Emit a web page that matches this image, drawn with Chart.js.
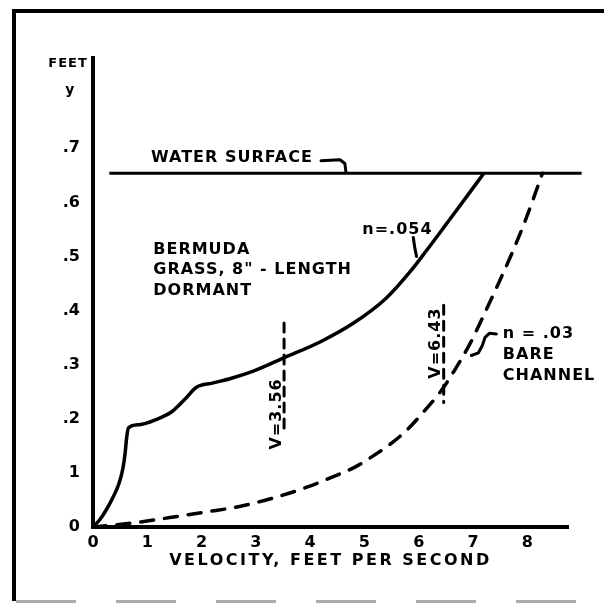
<!doctype html>
<html>
<head>
<meta charset="UTF-8">
<title>Depth vs velocity, Bermuda grass channel</title>
<script src="https://cdn.jsdelivr.net/npm/chart.js@4/dist/chart.umd.min.js"></script>
<style>
  body { margin: 0; background: #fff; }
  #wrap { position: relative; width: 604px; height: 605px; overflow: hidden; }
  #box { position: absolute; left: 0; top: 0; width: 604px; height: 605px; }
  #frame { position: absolute; left: 12px; top: 9px; width: 600px; height: 588px;
    border-left: 4px solid #000; border-top: 4px solid #000; pointer-events: none; }
  #bottom { position: absolute; left: 16px; top: 600px; width: 588px; height: 3px;
    background: repeating-linear-gradient(90deg, #aaa 0 60px, transparent 60px 100px); }
</style>
</head>
<body>
<div id="wrap">
  <div id="box"><canvas id="chart"></canvas></div>
  <div id="frame"></div>
  <div id="bottom"></div>
</div>
<script>
// axis ticks
const xTicks = [0, 1, 2, 3, 4, 5, 6, 7, 8];
const xTickLabels = ['0', '1', '2', '3', '4', '5', '6', '7', '8'];
const yTicks = [0, 0.1, 0.2, 0.3, 0.4, 0.5, 0.6, 0.7];
const yTickLabels = ['0', '1', '.2', '.3', '.4', '.5', '.6', '.7'];

// n = .054, bermuda grass (solid)
const grassX = [0, 0.12, 0.24, 0.36, 0.48, 0.55, 0.59, 0.62, 0.65, 0.85, 1.15, 1.45, 1.7, 1.9, 2.2, 2.55, 3.0, 3.5, 4.2, 4.8, 5.4, 5.85, 6.15, 6.5, 6.9, 7.2];
const grassY = [0, 0.013, 0.031, 0.053, 0.081, 0.108, 0.135, 0.165, 0.183, 0.189, 0.198, 0.213, 0.237, 0.258, 0.266, 0.275, 0.29, 0.312, 0.343, 0.377, 0.423, 0.473, 0.512, 0.559, 0.613, 0.654];

// n = .03, bare channel (dashed)
const bareX = [0, 0.7, 1.45, 2.1, 2.7, 3.3, 3.95, 4.45, 4.85, 5.2, 5.5, 5.8, 6.1, 6.4, 6.65, 6.95, 7.2, 7.45, 7.7, 7.95, 8.28];
const bareY = [0, 0.007, 0.018, 0.028, 0.038, 0.053, 0.074, 0.094, 0.112, 0.134, 0.155, 0.181, 0.214, 0.25, 0.288, 0.34, 0.392, 0.446, 0.502, 0.563, 0.654];

// water surface and mean velocity markers
const waterX = [0.3, 9.0];
const waterY = [0.654, 0.654];
const v356X = [3.52, 3.52];
const v356Y = [0.377, 0.174];
const v643X = [6.46, 6.46];
const v643Y = [0.41, 0.23];

function pts(xs, ys) {
  return xs.map((x, i) => ({x: x, y: ys[i]}));
}

// text placed in data units
const notes = [
  {text: 'FEET', x: -0.46, y: 0.856, align: 'center', size: 13},
  {text: 'y', x: -0.42, y: 0.808, align: 'center', size: 14},
  {text: 'WATER SURFACE', x: 1.07, y: 0.682},
  {text: 'n=.054', x: 4.96, y: 0.549},
  {text: 'BERMUDA', x: 1.11, y: 0.512},
  {text: 'GRASS, 8" - LENGTH', x: 1.11, y: 0.475},
  {text: 'DORMANT', x: 1.11, y: 0.436},
  {text: 'n = .03', x: 7.55, y: 0.357},
  {text: 'BARE', x: 7.55, y: 0.318},
  {text: 'CHANNEL', x: 7.55, y: 0.279},
  {text: 'V=3.56', x: 3.38, y: 0.209, align: 'center', rot: -Math.PI / 2},
  {text: 'V=6.43', x: 6.31, y: 0.34, align: 'center', rot: -Math.PI / 2}
];
const leaders = [
  [[4.2, 0.677], [4.55, 0.679], [4.64, 0.672], [4.66, 0.656]],
  [[5.9, 0.535], [5.93, 0.515], [5.96, 0.5]],
  [[6.97, 0.317], [7.1, 0.322], [7.17, 0.335], [7.22, 0.35], [7.3, 0.358], [7.43, 0.357]]
];

const FONT = '"DejaVu Sans", sans-serif';

const notesPlugin = {
  id: 'notes',
  beforeDraw(chart) {
    // spaced lettering for the axis title (drawn in the first layer)
    chart.ctx.letterSpacing = '2.5px';
  },
  afterDatasetsDraw(chart) {
    const ctx = chart.ctx;
    const xs = chart.scales.x, ys = chart.scales.y;
    ctx.save();
    ctx.letterSpacing = '1px';
    ctx.fillStyle = '#000';
    ctx.textBaseline = 'middle';
    notes.forEach(n => {
      ctx.save();
      ctx.font = 'bold ' + (n.size || 16) + 'px ' + FONT;
      ctx.translate(xs.getPixelForValue(n.x), ys.getPixelForValue(n.y));
      ctx.rotate(n.rot || 0);
      ctx.textAlign = n.align || 'left';
      ctx.fillText(n.text, 0, 0);
      ctx.restore();
    });
    ctx.lineWidth = 3;
    ctx.lineCap = 'round';
    ctx.lineJoin = 'round';
    ctx.strokeStyle = '#000';
    leaders.forEach(l => {
      ctx.beginPath();
      l.forEach((p, i) => {
        const px = xs.getPixelForValue(p[0]), py = ys.getPixelForValue(p[1]);
        if (i) ctx.lineTo(px, py); else ctx.moveTo(px, py);
      });
      ctx.stroke();
    });
    ctx.restore();
    // tick labels come after this, tight
    ctx.letterSpacing = '0px';
  }
};

new Chart(document.getElementById('chart'), {
  type: 'line',
  data: {
    datasets: [
      {
        label: 'n=.054',
        data: pts(grassX, grassY),
        borderColor: '#000',
        borderWidth: 3.5,
        cubicInterpolationMode: 'monotone',
        pointRadius: 0
      },
      {
        label: 'n=.03',
        data: pts(bareX, bareY),
        borderColor: '#000',
        borderWidth: 3.5,
        borderDash: [13, 11],
        borderCapStyle: 'round',
        cubicInterpolationMode: 'monotone',
        pointRadius: 0
      },
      {
        label: 'Water surface',
        data: pts(waterX, waterY),
        borderColor: '#000',
        borderWidth: 3,
        pointRadius: 0,
        clip: false
      },
      {
        label: 'V=3.56',
        data: pts(v356X, v356Y),
        borderColor: '#000',
        borderWidth: 3,
        borderDash: [9, 7],
        borderCapStyle: 'round',
        pointRadius: 0
      },
      {
        label: 'V=6.43',
        data: pts(v643X, v643Y),
        borderColor: '#000',
        borderWidth: 3,
        borderDash: [9, 7],
        borderCapStyle: 'round',
        pointRadius: 0
      }
    ]
  },
  options: {
    responsive: true,
    maintainAspectRatio: false,
    animation: false,
    layout: { padding: { left: 0, top: 58, right: 36, bottom: 0 } },
    plugins: { legend: { display: false }, tooltip: { enabled: false } },
    scales: {
      x: {
        type: 'linear',
        min: 0,
        max: 8.75,
        afterFit: s => { s.height = 78; },
        afterBuildTicks: s => { s.ticks = xTicks.map(v => ({value: v})); },
        grid: { display: false, drawTicks: false },
        border: { display: true, color: '#000', width: 4 },
        ticks: {
          z: 1,
          padding: 6,
          color: '#000',
          font: { family: FONT, size: 16, weight: 'bold' },
          callback: (v) => xTickLabels[xTicks.indexOf(v)]
        },
        title: {
          display: true,
          text: 'VELOCITY, FEET PER SECOND',
          color: '#000',
          font: { family: FONT, size: 16, weight: 'bold' },
          padding: { top: 0, bottom: 35 }
        }
      },
      y: {
        type: 'linear',
        min: 0,
        max: 0.867,
        afterFit: s => { s.width = 93; },
        afterBuildTicks: s => { s.ticks = yTicks.map(v => ({value: v})); },
        grid: { display: false, drawTicks: false },
        border: { display: true, color: '#000', width: 4 },
        ticks: {
          z: 1,
          padding: 13,
          color: '#000',
          font: { family: FONT, size: 16, weight: 'bold' },
          callback: (v) => yTickLabels[yTicks.indexOf(v)]
        }
      }
    }
  },
  plugins: [notesPlugin]
});
</script>
</body>
</html>
